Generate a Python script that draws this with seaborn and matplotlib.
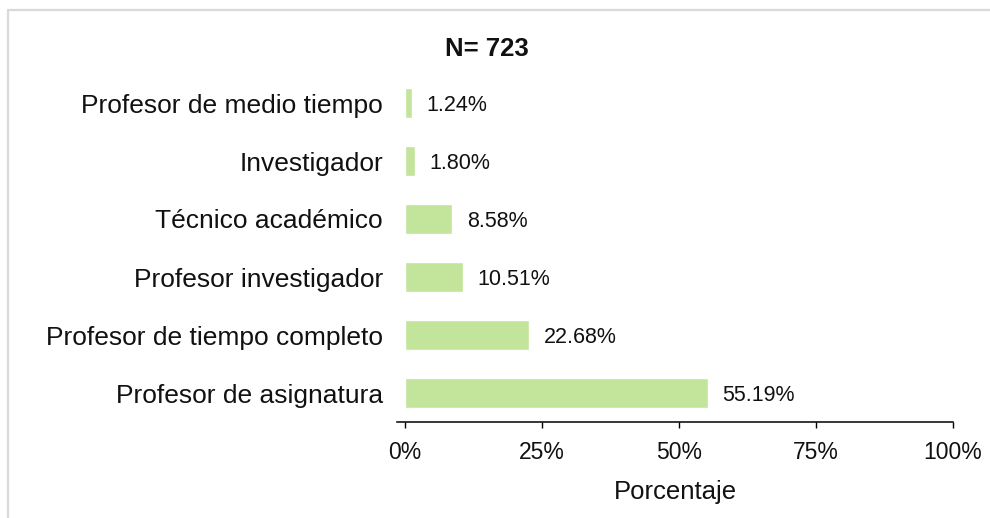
import matplotlib

matplotlib.use("Agg")
import matplotlib.pyplot as plt
from matplotlib.lines import Line2D
import pandas as pd
import seaborn as sns

categories = [
    "Profesor de medio tiempo",
    "Investigador",
    "Técnico académico",
    "Profesor investigador",
    "Profesor de tiempo completo",
    "Profesor de asignatura",
]
percentages = [1.24, 1.80, 8.58, 10.51, 22.68, 55.19]
x_ticks = [0, 25, 50, 75, 100]
x_tick_labels = ["0%", "25%", "50%", "75%", "100%"]
title_text = "N= 723"
x_label = "Porcentaje"

df = pd.DataFrame({"categoria": categories, "porcentaje": percentages})

sns.set_theme(style="white")
plt.rcParams["font.family"] = ["Liberation Sans", "DejaVu Sans"]

fig = plt.figure(figsize=(9.9, 5.18), dpi=100)
ax = fig.add_axes([397 / 990, 1 - 422 / 518, (953 - 397) / 990, (422 - 74) / 518])

sns.barplot(data=df, x="porcentaje", y="categoria", color="#c2e49b",
            saturation=1, width=0.52, ax=ax)

for cont in ax.containers:
    texts = ax.bar_label(cont, labels=[f"{v:.2f}%" for v in percentages],
                         padding=10.5, fontsize=15.5, color="#111111")
    for t in texts:
        t.set_va("center_baseline")

ax.set_xlim(-1.5, 100)
ax.set_ylim(len(categories) - 0.5, -0.5)
ax.set_xticks(x_ticks)
ax.set_xticklabels(x_tick_labels)
ax.set_ylabel("")
ax.set_xlabel(x_label, fontsize=18.5, labelpad=11, color="#111111")

sns.despine(ax=ax, left=True)
ax.spines["bottom"].set_color("black")
ax.spines["bottom"].set_linewidth(1.1)
ax.tick_params(axis="x", bottom=True, length=4.5, width=1, color="black",
               labelsize=16.5, pad=9.5, labelcolor="#111111")
ax.tick_params(axis="y", left=False, length=0, labelsize=19, pad=10,
               labelcolor="#111111")

fig.text(0.492, 1 - 48.5 / 518, title_text, ha="center", va="center",
         fontsize=18.5, fontweight="bold", color="#111111")

# light frame on top and left edges
fig.add_artist(Line2D([7.5 / 990, 1], [1 - 9.5 / 518, 1 - 9.5 / 518],
                      transform=fig.transFigure, color="#d9d9d9", lw=1.6))
fig.add_artist(Line2D([7.5 / 990, 7.5 / 990], [0, 1 - 9.5 / 518],
                      transform=fig.transFigure, color="#d9d9d9", lw=1.6))

fig.savefig("out.png", dpi=100)
